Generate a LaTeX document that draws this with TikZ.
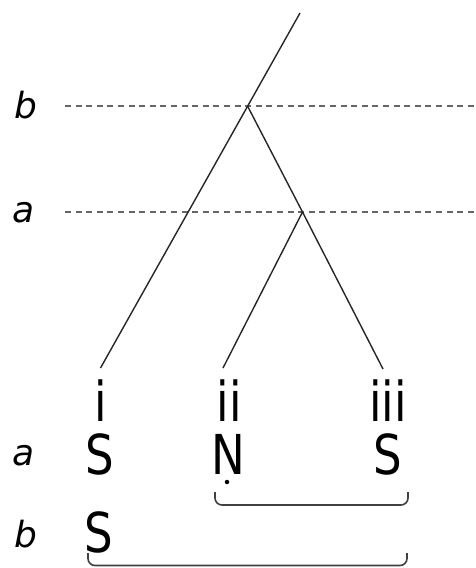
\documentclass[tikz,border=0pt]{standalone}
\usepackage{fontspec}
\setmainfont{DejaVu Sans}
\newfontfamily\narrowfont[FakeStretch=0.82]{DejaVu Sans}
\newfontfamily\narrowital[FakeStretch=0.9,FakeSlant=0.2]{DejaVu Sans}
\begin{document}
\begin{tikzpicture}[x=1pt,y=-1pt,
  branch/.style={line width=1.4pt,draw=black!85},
  level/.style={line width=1.5pt,draw=black!60,dash pattern=on 6pt off 4.6pt},
  brace/.style={line width=1.6pt,draw=black!75,rounded corners=7pt},
  sym/.style={inner sep=0pt,anchor=base,font=\narrowfont\fontsize{55}{60}\selectfont},
  lev/.style={inner sep=0pt,anchor=base,font=\fontsize{36}{40}\selectfont\itshape}]
\useasboundingbox (0,0) rectangle (475,568);
% coordinates of the tree
\coordinate (root) at (300,13);
\coordinate (nb) at (247.5,106);
\coordinate (na) at (302.5,212);
\coordinate (e1) at (100.5,368);
\coordinate (e2) at (223,368);
\coordinate (e3) at (383,369);
% level lines
\coordinate (lbL) at (65,106);
\coordinate (lbR) at (475,106);
\coordinate (laL) at (65,212);
\coordinate (laR) at (475,212);
\draw[level] (lbL) -- (lbR);
\draw[level] (laL) -- (laR);
% branches
\draw[branch] (root) -- (e1);
\draw[branch] (nb) -- (na) -- (e3);
\draw[branch] (na) -- (e2);
% level labels
\node[lev] (lb) at (26,118) {b};
\node[lev] (la) at (24,222) {a};
\node[lev] (ra) at (24,465) {a};
\node[lev] (rb) at (26,547) {b};
% leaf labels
\node[sym] (i) at (101,421) {i};
\node[sym] (ii) at (229,421) {ii};
\node[sym] (iii) at (388,421) {iii};
\node[sym] (s1) at (100,474) {S};
\node[sym] (n2) at (228,474) {N};
\node[inner sep=0pt,circle,fill=black,minimum size=4.5pt] (dot) at (227,482) {};
\node[sym] (s3) at (388,474) {S};
\node[sym] (s4) at (99,552) {S};
% brackets
\coordinate (b1a) at (215,492);
\coordinate (b1b) at (215,505);
\coordinate (b1c) at (408,505);
\coordinate (b1d) at (408,492);
\draw[brace] (b1a) -- (b1b) -- (b1c) -- (b1d);
\coordinate (b2a) at (88,553);
\coordinate (b2b) at (88,565.5);
\coordinate (b2c) at (407,565.5);
\coordinate (b2d) at (407,553);
\draw[brace] (b2a) -- (b2b) -- (b2c) -- (b2d);
\end{tikzpicture}
\end{document}
